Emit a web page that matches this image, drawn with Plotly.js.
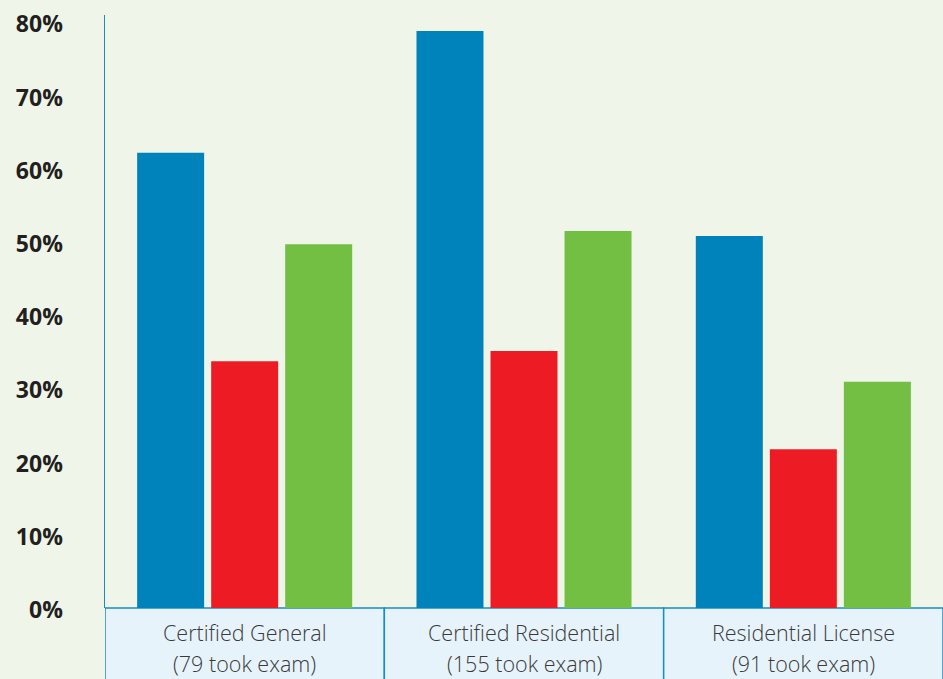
<!DOCTYPE html>
<html>
<head>
<meta charset="utf-8">
<script src="https://cdn.plot.ly/plotly-3.0.1.min.js"></script>
<style>
html,body{margin:0;padding:0;background:#eff5e8;}
#chart{width:943px;height:679px;}
</style>
</head>
<body>
<div id="chart"></div>
<script>
var categories = ["Certified General", "Certified Residential", "Residential License"];
var subLabels = ["(79 took exam)", "(155 took exam)", "(91 took exam)"];
var seriesBlue = [62.2, 78.8, 50.8];
var seriesRed = [33.7, 35.1, 21.7];
var seriesGreen = [49.7, 51.5, 30.9];
var tickVals = [0, 10, 20, 30, 40, 50, 60, 70, 80];
var tickLabels = ["0%", "10%", "20%", "30%", "40%", "50%", "60%", "70%", "80%"];

var colors = ["#0083ba", "#ed1c24", "#72bf44"];
var allSeries = [seriesBlue, seriesRed, seriesGreen];

var traces = allSeries.map(function (vals, i) {
  return {
    type: "bar",
    x: categories,
    y: vals,
    marker: { color: colors[i], line: { width: 0 } },
    hoverinfo: "none"
  };
});

var shapes = categories.map(function (c, i) {
  return {
    type: "rect",
    xref: "x", yref: "paper",
    x0: i - 0.5, x1: i + 0.5,
    y0: -0.2, y1: 0,
    fillcolor: "#e7f3fb",
    line: { color: "#1a8cc8", width: 1.5 },
    layer: "below"
  };
});

var labelFont = { family: "Open Sans", size: 21.5, color: "#3a3a3a", weight: 300 };
var annotations = [];
categories.forEach(function (c, i) {
  annotations.push({
    xref: "x", yref: "paper", x: c, y: -0.0405,
    text: c, showarrow: false, yanchor: "middle",
    font: labelFont
  });
  annotations.push({
    xref: "x", yref: "paper", x: c, y: -0.0944,
    text: subLabels[i], showarrow: false, yanchor: "middle",
    font: labelFont
  });
});

var layout = {
  width: 943, height: 679,
  margin: { l: 105, r: 0, t: 15, b: 71, pad: 0 },
  paper_bgcolor: "#eff5e8",
  plot_bgcolor: "#eff5e8",
  showlegend: false,
  barmode: "group",
  bargap: 0.205,
  bargroupgap: 0.095,
  xaxis: {
    type: "category",
    range: [-0.5, 2.5],
    showticklabels: false,
    showgrid: false,
    zeroline: false,
    showline: false,
    fixedrange: true
  },
  yaxis: {
    range: [0, 81],
    tickvals: tickVals,
    ticktext: tickLabels,
    showgrid: false,
    zeroline: false,
    showline: true,
    linecolor: "#1a8cc8",
    linewidth: 1.5,
    ticks: "",
    ticklabelstandoff: 36,
    ticklabelshift: 2,
    tickfont: { family: "Open Sans", size: 23, color: "#231f20", weight: 700 },
    fixedrange: true
  },
  shapes: shapes,
  annotations: annotations
};

Plotly.newPlot("chart", traces, layout, { displayModeBar: false, staticPlot: true });
</script>
</body>
</html>
